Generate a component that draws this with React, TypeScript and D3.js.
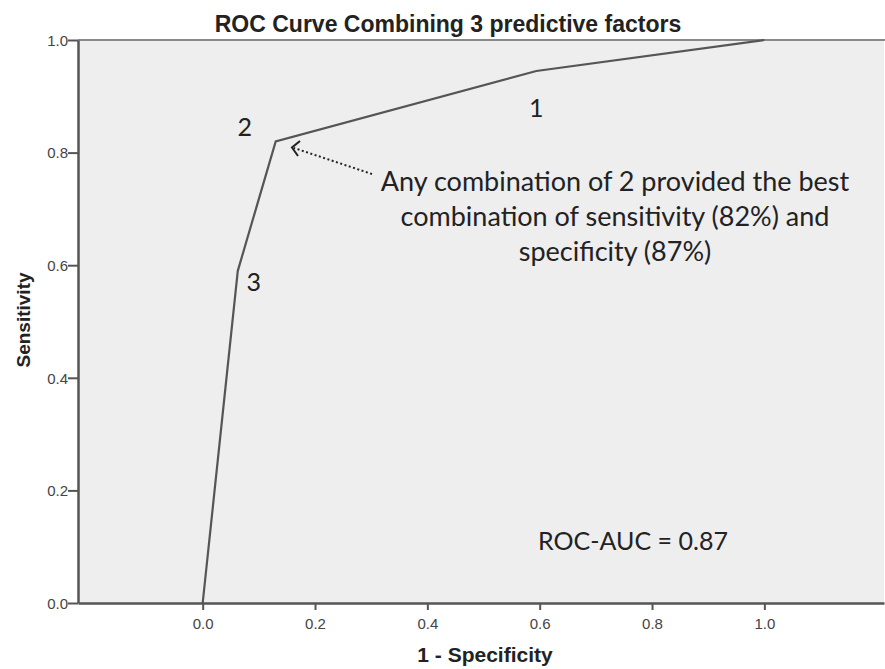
import React, { useEffect, useRef } from "react";
import * as d3 from "d3";

// ROC points (1 - specificity, sensitivity)
const fpr = [0, 0.0625, 0.13, 0.594, 1];
const tpr = [0, 0.59, 0.82, 0.945, 1];

// number of combined factors at each cut-off
const cutLabels = ["3", "2", "1"];
const cutLabelX = [0.091, 0.075, 0.594];
const cutLabelY = [0.554, 0.83, 0.863];

const xTicks = [0, 0.2, 0.4, 0.6, 0.8, 1.0];
const yTicks = [0, 0.2, 0.4, 0.6, 0.8, 1.0];

const noteLines = [
  "Any combination of 2 provided the best",
  "combination of sensitivity (82%) and",
  "specificity (87%)",
];
const aucText = "ROC-AUC = 0.87";

const W = 885;
const H = 669;

const App = () => {
  const ref = useRef<SVGSVGElement>(null);

  useEffect(() => {
    const svg = d3.select(ref.current);
    svg.selectAll("*").remove();

    const left = 78, right = 884, top = 40, bottom = 603;
    const x = d3.scaleLinear().domain([-0.222, 1.213]).range([left, right]);
    const y = d3.scaleLinear().domain([0, 1]).range([bottom, top]);

    // plot background
    svg.append("rect")
      .attr("x", left).attr("y", top)
      .attr("width", right - left).attr("height", bottom - top)
      .attr("fill", "#eeeeee");

    // top frame line
    svg.append("line")
      .attr("x1", left).attr("x2", W).attr("y1", top).attr("y2", top)
      .attr("stroke", "#8a8a8a").attr("stroke-width", 2);

    // y axis
    const yAxis = svg.append("g")
      .attr("transform", `translate(${left},0)`)
      .call(d3.axisLeft(y).tickValues(yTicks).tickFormat(d3.format(".1f")).tickSize(10).tickSizeOuter(0));
    yAxis.select(".domain").attr("stroke", "#555").attr("stroke-width", 2.5);
    yAxis.selectAll(".tick line").attr("stroke", "#555").attr("stroke-width", 2);
    yAxis.selectAll(".tick text")
      .attr("x", -10).attr("dy", "0.35em")
      .attr("font-family", "'Liberation Sans', Arial, sans-serif")
      .attr("font-size", 15).attr("fill", "#444");

    // x axis
    const xAxis = svg.append("g")
      .attr("transform", `translate(0,${bottom})`)
      .call(d3.axisBottom(x).tickValues(xTicks).tickFormat(d3.format(".1f")).tickSize(7).tickSizeOuter(0));
    xAxis.select(".domain").attr("stroke", "#555").attr("stroke-width", 2.5);
    xAxis.selectAll(".tick line").attr("stroke", "#555").attr("stroke-width", 2);
    xAxis.selectAll(".tick text")
      .attr("y", 15)
      .attr("font-family", "'Liberation Sans', Arial, sans-serif")
      .attr("font-size", 15).attr("fill", "#444");

    // ROC curve
    const pts = fpr.map((f, i) => [f, tpr[i]] as [number, number]);
    svg.append("path")
      .datum(pts)
      .attr("d", d3.line().x(d => x(d[0])).y(d => y(d[1])))
      .attr("fill", "none")
      .attr("stroke", "#555")
      .attr("stroke-width", 2.2);

    const noteFont = "Lato, 'Open Sans', sans-serif";

    // cut-off labels
    cutLabels.forEach((t, i) => {
      svg.append("text")
        .attr("x", x(cutLabelX[i])).attr("y", y(cutLabelY[i]))
        .attr("text-anchor", "middle")
        .attr("font-family", noteFont).attr("font-size", 25)
        .attr("fill", "#222").text(t);
    });

    // dotted arrow to best point
    svg.append("line")
      .attr("x1", 372).attr("y1", 174)
      .attr("x2", 294).attr("y2", 148)
      .attr("stroke", "#222").attr("stroke-width", 2)
      .attr("stroke-dasharray", "2 2.5");
    svg.append("path")
      .attr("d", "M300,141 L292,147.5 L298,156")
      .attr("fill", "none").attr("stroke", "#222").attr("stroke-width", 2);

    // annotation
    noteLines.forEach((t, i) => {
      svg.append("text")
        .attr("x", 615).attr("y", 191 + i * 35)
        .attr("text-anchor", "middle")
        .attr("font-family", noteFont).attr("font-size", 27)
        .attr("fill", "#222").text(t);
    });

    svg.append("text")
      .attr("x", 633).attr("y", 550)
      .attr("text-anchor", "middle")
      .attr("font-family", noteFont).attr("font-size", 25)
      .attr("fill", "#222").text(aucText);

    // titles
    svg.append("text")
      .attr("x", 448).attr("y", 32)
      .attr("text-anchor", "middle")
      .attr("font-family", "'Liberation Sans', Arial, sans-serif")
      .attr("font-weight", "bold").attr("font-size", 23)
      .attr("fill", "#222").text("ROC Curve Combining 3 predictive factors");

    svg.append("text")
      .attr("x", 485).attr("y", 662)
      .attr("text-anchor", "middle")
      .attr("font-family", "'Liberation Sans', Arial, sans-serif")
      .attr("font-weight", "bold").attr("font-size", 21)
      .attr("fill", "#222").text("1 - Specificity");

    svg.append("text")
      .attr("transform", "translate(30,320) rotate(-90)")
      .attr("text-anchor", "middle")
      .attr("font-family", "'Liberation Sans', Arial, sans-serif")
      .attr("font-weight", "bold").attr("font-size", 19)
      .attr("fill", "#222").text("Sensitivity");
  }, []);

  return (
    <svg
      ref={ref}
      width={W}
      height={H}
      style={{ position: "absolute", left: 0, top: 0, background: "#fff" }}
    />
  );
};

export default App;
